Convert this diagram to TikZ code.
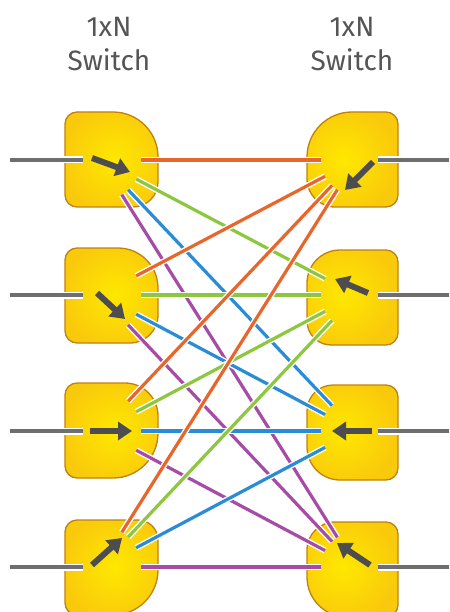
\documentclass[tikz,border=0pt]{standalone}
\usepackage{fontspec}
\setmainfont{Fira Sans}
\usetikzlibrary{arrows.meta}

\definecolor{boxedge}{HTML}{BE8210}
\definecolor{boxin}{HTML}{FFE800}
\definecolor{boxout}{HTML}{F9C90C}
\definecolor{feedgray}{HTML}{6D6E70}
\definecolor{arrowgray}{HTML}{4D4D4F}
\definecolor{titlegray}{HTML}{555555}
\definecolor{linkorange}{HTML}{E8662C}
\definecolor{linkgreen}{HTML}{8DC63F}
\definecolor{linkblue}{HTML}{2A8CD6}
\definecolor{linkpurple}{HTML}{A64CA6}

\tikzset{
	switch/.style={draw=boxedge, line width=1.3pt, fill=boxout},
	feed/.style={draw=feedgray, line width=4pt, preaction={draw=white, line width=7pt}},
	link/.style={line width=3.2pt, shorten <=41pt, shorten >=35pt, preaction={draw=white, line width=6pt}},
	swarrow/.style={draw=arrowgray, line width=6pt, -{Triangle[width=18pt, length=14pt]}},
	title/.style={font=\fontsize{28}{34}\selectfont, text=titlegray, align=center}
}

% switch body: x left, x right, y top, radii tl, tr, br, bl, glow x, glow y
\newcommand{\switchbox}[9]{%
	\path[switch, path picture={\shade[inner color=boxin, outer color=boxout] (#8,#9) circle[radius=55pt];}]
		(#1+#4,#3) -- (#2-#5,#3) arc[start angle=90, end angle=0, radius=#5pt]
		-- (#2,#3+95-#6) arc[start angle=0, end angle=-90, radius=#6pt]
		-- (#1+#7,#3+95) arc[start angle=-90, end angle=-180, radius=#7pt]
		-- (#1,#3+#4) arc[start angle=180, end angle=90, radius=#4pt] -- cycle;}

\begin{document}
\begin{tikzpicture}[x=1pt, y=-1pt]
	\useasboundingbox (0,0) rectangle (449,612);

	% Titles:
	\node[title](titleL) at (109, 44){1xN\\Switch};
	\node[title](titleR) at (352, 44){1xN\\Switch};

	% Switch bodies:
	\switchbox{65}{158}{112}{12}{45}{25}{12}{115}{160}
	\switchbox{65}{158}{248}{12}{40}{28}{12}{115}{295}
	\switchbox{65}{158}{383}{12}{33}{45}{12}{115}{431}
	\switchbox{65}{158}{520}{12}{20}{45}{12}{115}{567}
	\switchbox{307}{398}{112}{45}{12}{12}{28}{343}{160}
	\switchbox{307}{398}{250}{33}{12}{12}{24}{343}{295}
	\switchbox{307}{398}{385}{26}{12}{12}{33}{343}{431}
	\switchbox{307}{398}{522}{28}{12}{12}{40}{343}{567}

	% Ports and fibre ends:
	\coordinate (L1) at (100, 160);
	\coordinate (L2) at (100, 295);
	\coordinate (L3) at (100, 431);
	\coordinate (L4) at (100, 567);
	\coordinate (R1) at (356, 160);
	\coordinate (R2) at (356, 295);
	\coordinate (R3) at (356, 431);
	\coordinate (R4) at (356, 567);
	\coordinate (inL1) at (10, 160);
	\coordinate (inL2) at (10, 295);
	\coordinate (inL3) at (10, 431);
	\coordinate (inL4) at (10, 567);
	\coordinate (inR1) at (449, 160);
	\coordinate (inR2) at (449, 295);
	\coordinate (inR3) at (449, 431);
	\coordinate (inR4) at (449, 567);

	\draw[feed, shorten >=17pt] (inL1) -- (L1);
	\draw[feed, shorten >=17pt] (inL2) -- (L2);
	\draw[feed, shorten >=17pt] (inL3) -- (L3);
	\draw[feed, shorten >=17pt] (inL4) -- (L4);
	\draw[feed, shorten >=22pt] (inR1) -- (R1);
	\draw[feed, shorten >=22pt] (inR2) -- (R2);
	\draw[feed, shorten >=22pt] (inR3) -- (R3);
	\draw[feed, shorten >=22pt] (inR4) -- (R4);

	% Switch positions:
	\draw[swarrow] ([shift={(-8,-2)}]L1) -- ([shift={(30,12)}]L1);
	\draw[swarrow] ([shift={(-3,-2)}]L2) -- ([shift={(25,24)}]L2);
	\draw[swarrow] ([shift={(-10,0)}]L3) -- ([shift={(32,0)}]L3);
	\draw[swarrow] ([shift={(-8,-2)}]L4) -- ([shift={(22,-29)}]L4);
	\draw[swarrow] ([shift={(17,2)}]R1) -- ([shift={(-11,30)}]R1);
	\draw[swarrow] ([shift={(12,-2)}]R2) -- ([shift={(-21,-16)}]R2);
	\draw[swarrow] ([shift={(16,0)}]R3) -- ([shift={(-24,0)}]R3);
	\draw[swarrow] ([shift={(14,-2)}]R4) -- ([shift={(-19,-24)}]R4);

	% Fibre links:
	\draw[link, linkorange] (L1) -- (R1);
	\draw[link, linkgreen] (L1) -- (R2);
	\draw[link, linkblue] (L1) -- (R3);
	\draw[link, linkpurple] (L1) -- (R4);
	\draw[link, linkorange] (L2) -- (R1);
	\draw[link, linkgreen] (L2) -- (R2);
	\draw[link, linkblue] (L2) -- (R3);
	\draw[link, linkpurple] (L2) -- (R4);
	\draw[link, linkorange] (L3) -- (R1);
	\draw[link, linkgreen] (L3) -- (R2);
	\draw[link, linkblue] (L3) -- (R3);
	\draw[link, linkpurple] (L3) -- (R4);
	\draw[link, linkorange] (L4) -- (R1);
	\draw[link, linkgreen] (L4) -- (R2);
	\draw[link, linkblue] (L4) -- (R3);
	\draw[link, linkpurple] (L4) -- (R4);
\end{tikzpicture}
\end{document}
